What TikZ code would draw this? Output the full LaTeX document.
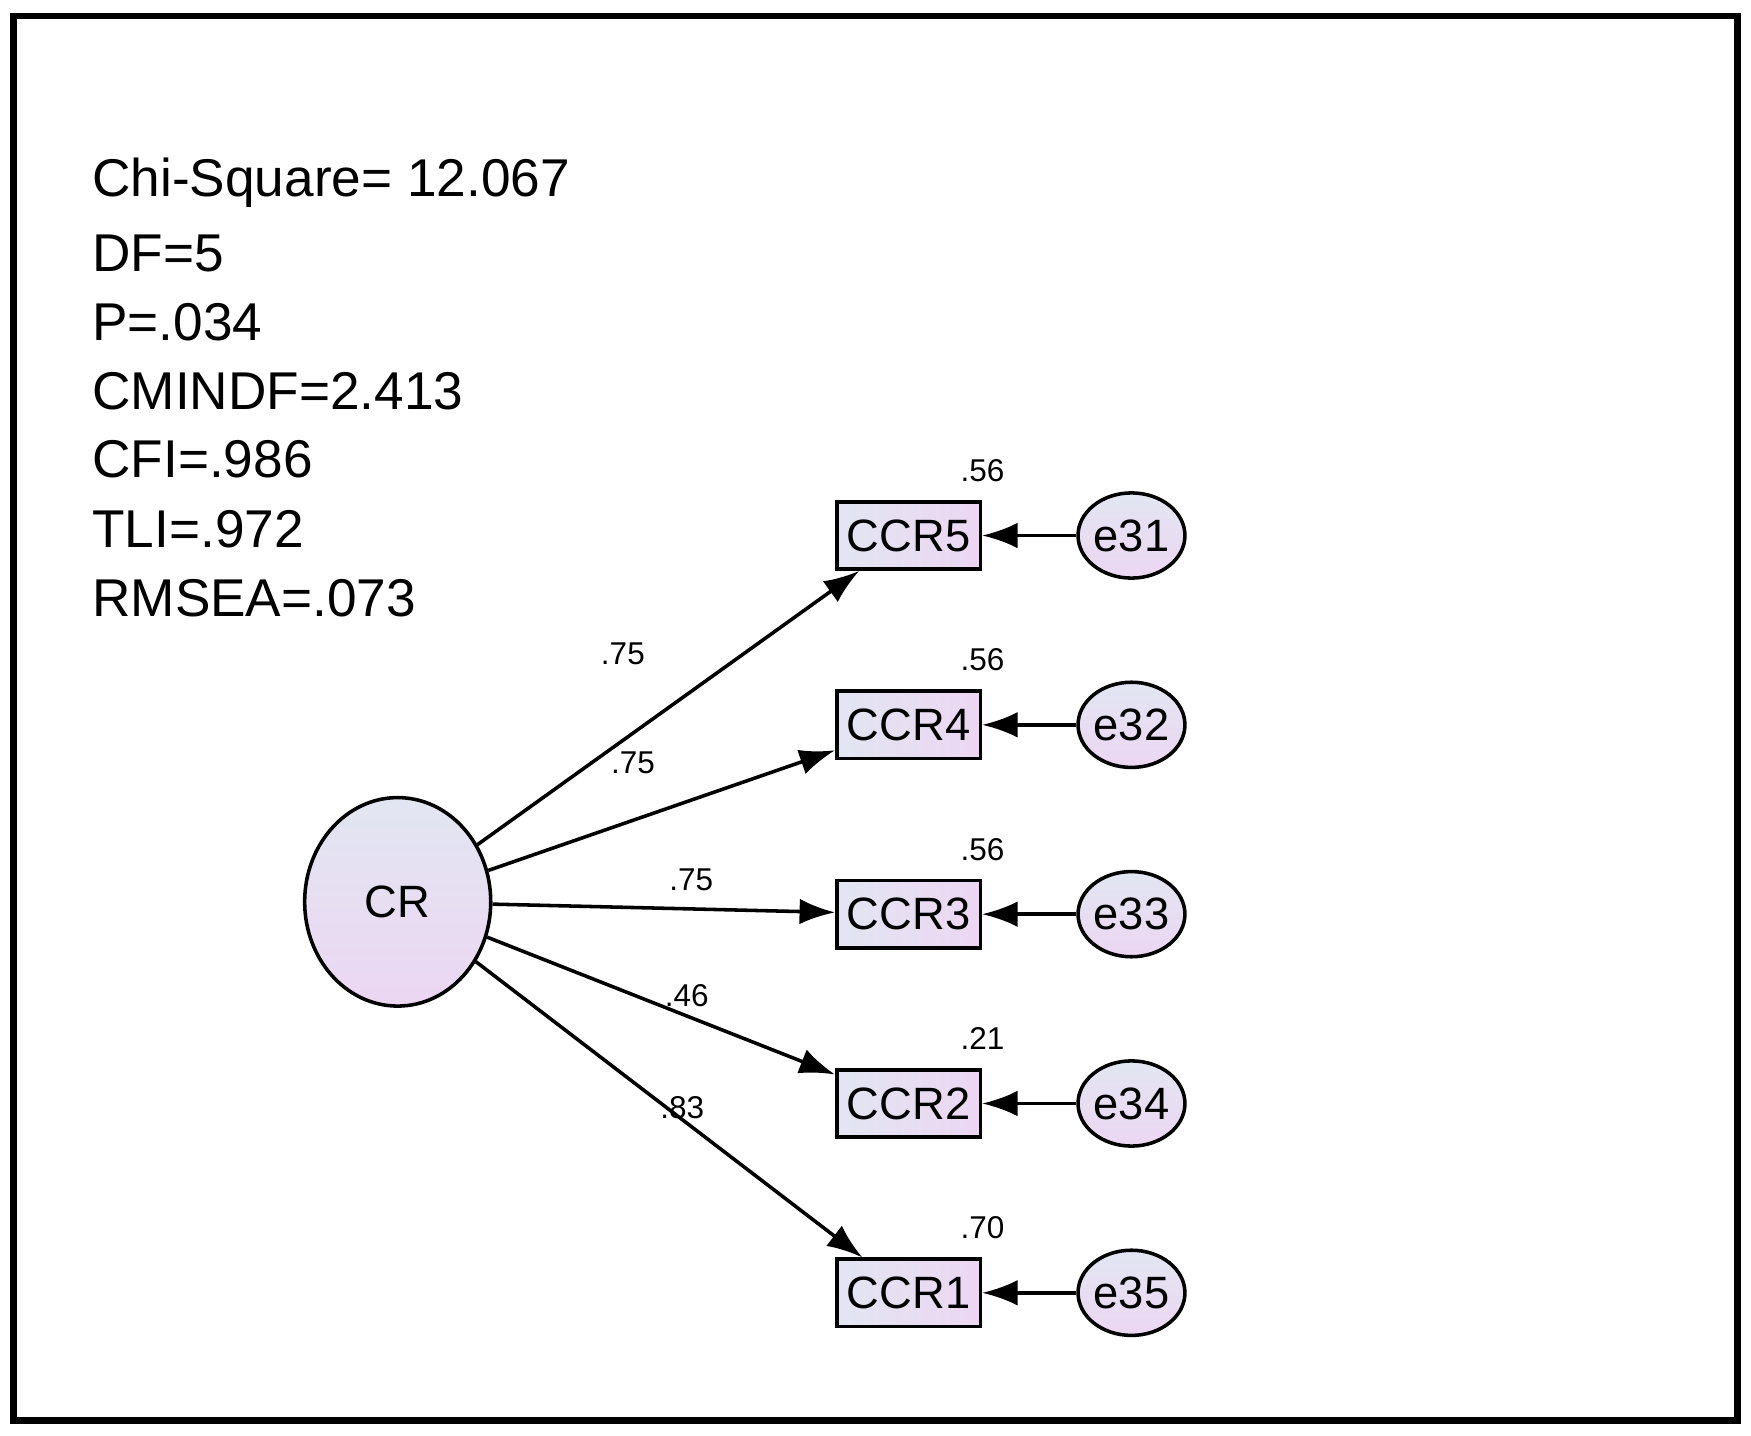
\documentclass[tikz,border=0pt]{standalone}
\usepackage{fontspec}
\setmainfont{Liberation Sans}
\usetikzlibrary{shapes.geometric,arrows.meta}
\begin{document}
\begin{tikzpicture}[x=0.01cm,y=-0.01cm,
 lat/.style={ellipse,draw,line width=0.9pt,top color={rgb,255:red,226;green,230;blue,242},bottom color={rgb,255:red,236;green,214;blue,242},inner sep=0pt},
 obs/.style={rectangle,draw,line width=0.9pt,minimum width=1.28cm,minimum height=0.6cm,inner sep=0pt,left color={rgb,255:red,226;green,230;blue,242},right color={rgb,255:red,236;green,214;blue,242},font=\fontsize{11.5}{12}\selectfont},
 err/.style={lat,minimum width=0.92cm,minimum height=0.76cm,font=\fontsize{11.5}{12}\selectfont},
 arr/.style={line width=0.9pt,-{Latex[length=9pt,width=6.5pt]}},
 lbl/.style={font=\fontsize{8}{9}\selectfont},
 stat/.style={anchor=west,font=\fontsize{13.5}{14}\selectfont}]
\useasboundingbox (0,0) rectangle (1563,1281);
\draw[line width=1.6pt] (12,14) rectangle (1551,1268);
\node[stat] (t1) at (70,163) {Chi-Square= 12.067};
\node[stat] (t2) at (70,226) {DF=5};
\node[stat] (t3) at (70,288) {P=.034};
\node[stat] (t4) at (70,349) {CMINDF=2.413};
\node[stat] (t5) at (70,410) {CFI=.986};
\node[stat] (t6) at (70,472) {TLI=.972};
\node[stat] (t7) at (70,534) {RMSEA=.073};
\node[lat,minimum width=1.66cm,minimum height=1.86cm,font=\fontsize{11.5}{12}\selectfont] (cr) at (355,805) {CR};
\foreach \i/\y/\e/\r in {5/478/31/.56,4/647/32/.56,3/816/33/.56,2/985/34/.21,1/1154/35/.70}{
 \node[obs] (c\i) at (811,\y) {CCR\i};
 \node[err] (e\e) at (1010,\y) {e\e};
 \draw[arr] (e\e) -- (c\i);
 \node[lbl] (r\i) at (877,\y-58) {\r};
}
\draw[arr] (cr) -- (c5);
\draw[arr] (cr) -- (c4);
\draw[arr] (cr) -- (c3);
\draw[arr] (cr) -- (c2);
\draw[arr] (cr) -- (c1);
\node[lbl] (l5) at (556,584) {.75};
\node[lbl] (l4) at (565,681) {.75};
\node[lbl] (l3) at (617,785) {.75};
\node[lbl] (l2) at (613,889) {.46};
\node[lbl] (l1) at (609,989) {.83};
\end{tikzpicture}
\end{document}
